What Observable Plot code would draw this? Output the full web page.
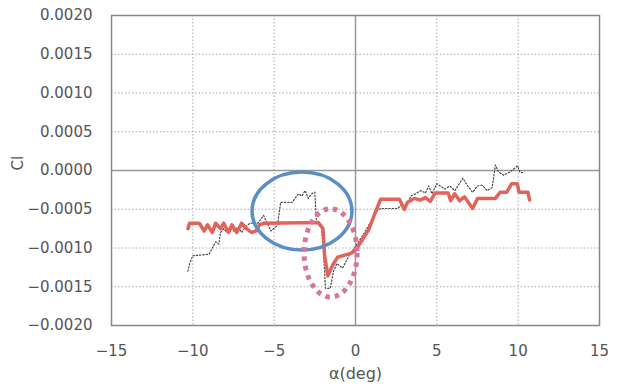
<!DOCTYPE html>
<html>
<head>
<meta charset="utf-8">
<script src="https://cdn.jsdelivr.net/npm/d3@7"></script>
<script src="https://cdn.jsdelivr.net/npm/@observablehq/plot@0.6"></script>
<style>
  html, body { margin: 0; padding: 0; background: #fff; }
  #chart svg { display: block; }
</style>
</head>
<body>
<div id="chart"></div>
<script>
// Red (thick) series: alpha (deg) and Cl
const redAlpha = [-10.3,-10.2,-9.6,-9.3,-9.1,-8.8,-8.6,-8.3,-8.1,-7.8,-7.6,-7.3,-7.0,-6.7,-6.4,-6.1,-5.9,-5.6,-2.3,-2.0,-1.9,-1.7,-1.4,-1.1,-0.3,0.0,0.4,0.8,1.2,1.55,2.7,3.0,3.2,3.6,4.0,4.3,4.6,4.9,5.7,5.85,6.1,6.4,6.7,7.2,7.5,8.6,8.9,9.3,9.6,9.95,10.05,10.6,10.7];
const redCl = [-0.00075,-0.00068,-0.00068,-0.00078,-0.00070,-0.00080,-0.00068,-0.00075,-0.00068,-0.00080,-0.00070,-0.00080,-0.00068,-0.00075,-0.00080,-0.00078,-0.00070,-0.00068,-0.00067,-0.00075,-0.00110,-0.00136,-0.00122,-0.00112,-0.00107,-0.00103,-0.00090,-0.00077,-0.00055,-0.00037,-0.00037,-0.00050,-0.00041,-0.00036,-0.00038,-0.00035,-0.00040,-0.00029,-0.00029,-0.00039,-0.00030,-0.00039,-0.00034,-0.00049,-0.00036,-0.00036,-0.00028,-0.00028,-0.00017,-0.00017,-0.00028,-0.00028,-0.00038];

// Gray (dotted) series
const grayAlpha = [-10.3,-10.2,-10.0,-9.0,-8.8,-8.6,-8.4,-8.3,-8.1,-7.9,-7.7,-7.5,-7.2,-7.0,-6.8,-6.5,-6.0,-5.65,-5.2,-4.8,-4.6,-3.9,-3.5,-3.3,-3.1,-2.9,-2.7,-2.5,-2.4,-2.1,-1.95,-1.85,-1.55,-1.35,-1.15,-0.8,-0.4,0.0,0.5,1.0,1.4,1.7,2.6,2.8,3.0,3.4,3.7,4.0,4.3,4.5,4.7,5.0,5.5,5.8,6.1,6.6,6.9,7.2,7.5,7.8,8.1,8.4,8.6,8.8,9.1,9.5,9.96,10.1,10.3];
const grayCl = [-0.00130,-0.00120,-0.00110,-0.00108,-0.00100,-0.00092,-0.00095,-0.00080,-0.00075,-0.00080,-0.00074,-0.00078,-0.00073,-0.00080,-0.00074,-0.00068,-0.00068,-0.00058,-0.00078,-0.00071,-0.00041,-0.00041,-0.00030,-0.00033,-0.00026,-0.00036,-0.00030,-0.00028,-0.00068,-0.00070,-0.00110,-0.00152,-0.00152,-0.00130,-0.00120,-0.00126,-0.00110,-0.00098,-0.00082,-0.00064,-0.00050,-0.00049,-0.00049,-0.00045,-0.00052,-0.00033,-0.00030,-0.00026,-0.00029,-0.00020,-0.00030,-0.00017,-0.00024,-0.00020,-0.00026,-0.00010,-0.00020,-0.00028,-0.00020,-0.00019,-0.00026,-0.00022,0.00007,-0.00002,-0.00006,-0.00002,0.00006,-0.00002,-0.00003];

// Tick values
const xTicks = [-15,-10,-5,0,5,10,15];
const yTicks = [-0.0020,-0.0015,-0.0010,-0.0005,0.0000,0.0005,0.0010,0.0015,0.0020];

// Annotation ellipses (centre and half-axes in data units)
const ellipseCx = [-3.26, -1.5];
const ellipseCy = [-0.00053, -0.00107];
const ellipseRx = [3.07, 1.63];
const ellipseRy = [0.000503, 0.00057];
const ellipseNames = ["blue", "pink"];

const red = redAlpha.map((a, i) => ({alpha: a, cl: redCl[i]}));
const gray = grayAlpha.map((a, i) => ({alpha: a, cl: grayCl[i]}));
const ellipses = ellipseCx.map((cx, i) => ({cx, cy: ellipseCy[i], rx: ellipseRx[i], ry: ellipseRy[i], name: ellipseNames[i]}));

const ellStyle = {
  blue: {stroke: "#5b8fc4", width: 3.5, dash: null},
  pink: {stroke: "#d8749f", width: 5, dash: "4.5,5"}
};

const fmtY = d3.format(".4f");
const fmtX = d3.format("d");
const font = "'DejaVu Sans', sans-serif";

const chart = Plot.plot({
  width: 620,
  height: 389,
  marginLeft: 111,
  marginRight: 21,
  marginTop: 15,
  marginBottom: 64,
  style: {fontFamily: font, fontSize: "15px", color: "#555", background: "#fff"},
  x: {domain: [-15, 15], ticks: xTicks, tickFormat: fmtX},
  y: {domain: [-0.002, 0.002], ticks: yTicks, tickFormat: fmtY},
  marks: [
    Plot.ruleX(xTicks.filter(d => d !== 0 && Math.abs(d) !== 15), {stroke: "#aaa", strokeWidth: 1, strokeDasharray: "1.5,2"}),
    Plot.ruleY(yTicks.filter(d => d !== 0 && Math.abs(d) !== 0.002), {stroke: "#aaa", strokeWidth: 1, strokeDasharray: "1.5,2"}),
    Plot.ruleX([0], {stroke: "#999", strokeWidth: 1.5}),
    Plot.ruleY([0], {stroke: "#999", strokeWidth: 1.5}),
    Plot.frame({stroke: "#888", strokeWidth: 1.5}),
    Plot.axisX({ticks: xTicks, tickFormat: fmtX, tickSize: 0, tickPadding: 20, label: null, fontSize: 15}),
    Plot.axisY({ticks: yTicks, tickFormat: fmtY, tickSize: 0, tickPadding: 19, label: null, fontSize: 15}),
    Plot.line(gray, {x: "alpha", y: "cl", stroke: "#444", strokeWidth: 1.2, strokeDasharray: "1.3,2"}),
    Plot.line(red, {x: "alpha", y: "cl", stroke: "#e2625c", strokeWidth: 3.5}),
    Plot.dot(ellipses, {
      x: "cx", y: "cy",
      render(index, scales, values, dimensions, context) {
        const g = d3.create("svg:g");
        for (const i of index) {
          const d = ellipses[i];
          const st = ellStyle[d.name];
          const cx = scales.x(d.cx), cy = scales.y(d.cy);
          const rx = Math.abs(scales.x(d.cx + d.rx) - cx);
          const ry = Math.abs(scales.y(d.cy + d.ry) - cy);
          const e = g.append("ellipse")
            .attr("cx", cx).attr("cy", cy).attr("rx", rx).attr("ry", ry)
            .attr("fill", "none").attr("stroke", st.stroke).attr("stroke-width", st.width);
          if (st.dash) e.attr("stroke-dasharray", st.dash);
        }
        return g.node();
      }
    }),
    Plot.text(["Cl"], {frameAnchor: "left", dx: -93, rotate: -90, fontSize: 15, fill: "#555"}),
    Plot.text(["α(deg)"], {frameAnchor: "bottom", dy: 53, fontSize: 16, fill: "#555"})
  ]
});
document.getElementById("chart").appendChild(chart);
</script>
</body>
</html>
